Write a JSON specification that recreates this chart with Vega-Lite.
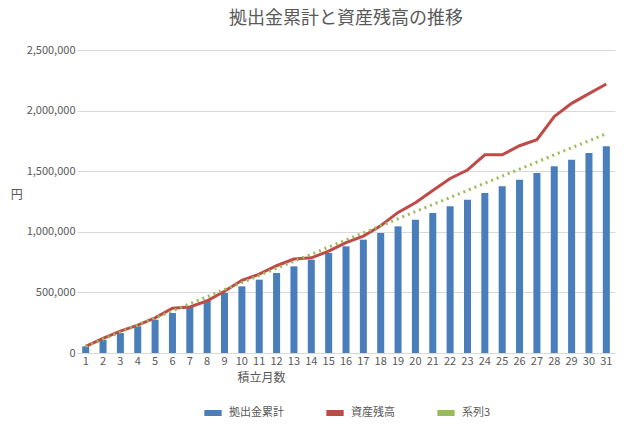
{"$schema": "https://vega.github.io/schema/vega-lite/v6.json",
  "width": 635, "height": 435,
  "autosize": {"type": "fit", "contains": "padding"},
  "padding": {"left": 10, "right": 20, "top": 10, "bottom": 10},
  "title": {"text": "拠出金累計と資産残高の推移", "font": "Noto Sans CJK JP", "fontSize": 18, "fontWeight": "normal", "color": "#595959", "offset": 16},
  "config": {"view": {"stroke": null},
    "axis": {"labelFont": "Noto Sans CJK JP", "titleFont": "Noto Sans CJK JP", "labelColor": "#595959", "titleColor": "#595959", "labelFontSize": 11, "titleFontSize": 12, "titleFontWeight": "normal"},
    "legend": {"labelFont": "Noto Sans CJK JP", "labelFontSize": 11, "labelColor": "#595959", "layout": {"bottom": {"anchor": "middle"}}}},
  "data": {"values": [
    {"m":1,"s":"拠出金累計","v":55000},{"m":2,"s":"拠出金累計","v":110000},{"m":3,"s":"拠出金累計","v":165000},{"m":4,"s":"拠出金累計","v":220000},{"m":5,"s":"拠出金累計","v":275000},{"m":6,"s":"拠出金累計","v":330000},{"m":7,"s":"拠出金累計","v":385000},{"m":8,"s":"拠出金累計","v":440000},{"m":9,"s":"拠出金累計","v":495000},{"m":10,"s":"拠出金累計","v":550000},{"m":11,"s":"拠出金累計","v":605000},{"m":12,"s":"拠出金累計","v":660000},{"m":13,"s":"拠出金累計","v":715000},{"m":14,"s":"拠出金累計","v":770000},{"m":15,"s":"拠出金累計","v":825000},{"m":16,"s":"拠出金累計","v":880000},{"m":17,"s":"拠出金累計","v":935000},{"m":18,"s":"拠出金累計","v":990000},{"m":19,"s":"拠出金累計","v":1045000},{"m":20,"s":"拠出金累計","v":1100000},{"m":21,"s":"拠出金累計","v":1155000},{"m":22,"s":"拠出金累計","v":1210000},{"m":23,"s":"拠出金累計","v":1265000},{"m":24,"s":"拠出金累計","v":1320000},{"m":25,"s":"拠出金累計","v":1375000},{"m":26,"s":"拠出金累計","v":1430000},{"m":27,"s":"拠出金累計","v":1485000},{"m":28,"s":"拠出金累計","v":1540000},{"m":29,"s":"拠出金累計","v":1595000},{"m":30,"s":"拠出金累計","v":1650000},{"m":31,"s":"拠出金累計","v":1705000},
    {"m":1,"s":"資産残高","v":55000},{"m":2,"s":"資産残高","v":120000},{"m":3,"s":"資産残高","v":180000},{"m":4,"s":"資産残高","v":230000},{"m":5,"s":"資産残高","v":290000},{"m":6,"s":"資産残高","v":370000},{"m":7,"s":"資産残高","v":380000},{"m":8,"s":"資産残高","v":430000},{"m":9,"s":"資産残高","v":510000},{"m":10,"s":"資産残高","v":600000},{"m":11,"s":"資産残高","v":650000},{"m":12,"s":"資産残高","v":720000},{"m":13,"s":"資産残高","v":775000},{"m":14,"s":"資産残高","v":785000},{"m":15,"s":"資産残高","v":840000},{"m":16,"s":"資産残高","v":910000},{"m":17,"s":"資産残高","v":965000},{"m":18,"s":"資産残高","v":1050000},{"m":19,"s":"資産残高","v":1160000},{"m":20,"s":"資産残高","v":1240000},{"m":21,"s":"資産残高","v":1340000},{"m":22,"s":"資産残高","v":1440000},{"m":23,"s":"資産残高","v":1510000},{"m":24,"s":"資産残高","v":1635000},{"m":25,"s":"資産残高","v":1635000},{"m":26,"s":"資産残高","v":1710000},{"m":27,"s":"資産残高","v":1760000},{"m":28,"s":"資産残高","v":1950000},{"m":29,"s":"資産残高","v":2060000},{"m":30,"s":"資産残高","v":2140000},{"m":31,"s":"資産残高","v":2220000},
    {"m":1,"s":"系列3","v":55000},{"m":2,"s":"系列3","v":113500},{"m":3,"s":"系列3","v":172000},{"m":4,"s":"系列3","v":230500},{"m":5,"s":"系列3","v":289000},{"m":6,"s":"系列3","v":347500},{"m":7,"s":"系列3","v":406000},{"m":8,"s":"系列3","v":464500},{"m":9,"s":"系列3","v":523000},{"m":10,"s":"系列3","v":581500},{"m":11,"s":"系列3","v":640000},{"m":12,"s":"系列3","v":698500},{"m":13,"s":"系列3","v":757000},{"m":14,"s":"系列3","v":815500},{"m":15,"s":"系列3","v":874000},{"m":16,"s":"系列3","v":932500},{"m":17,"s":"系列3","v":991000},{"m":18,"s":"系列3","v":1049500},{"m":19,"s":"系列3","v":1108000},{"m":20,"s":"系列3","v":1166500},{"m":21,"s":"系列3","v":1225000},{"m":22,"s":"系列3","v":1283500},{"m":23,"s":"系列3","v":1342000},{"m":24,"s":"系列3","v":1400500},{"m":25,"s":"系列3","v":1459000},{"m":26,"s":"系列3","v":1517500},{"m":27,"s":"系列3","v":1576000},{"m":28,"s":"系列3","v":1634500},{"m":29,"s":"系列3","v":1693000},{"m":30,"s":"系列3","v":1751500},{"m":31,"s":"系列3","v":1810000}
  ]},
  "encoding": {
    "x": {"field": "m", "type": "ordinal", "title": "積立月数", "axis": {"labelAngle": 0, "ticks": false, "domainColor": "#d9d9d9", "titleAlign": "left", "titleAnchor": "start", "titleX": 160, "titlePadding": 6}},
    "y": {"field": "v", "type": "quantitative", "title": "円", "scale": {"domain": [0, 2500000]}, "axis": {"values": [0, 500000, 1000000, 1500000, 2000000, 2500000], "labelExpr": "format(datum.value, ',')", "domain": false, "ticks": false, "gridColor": "#d9d9d9", "titleAngle": 0, "titlePadding": 10}},
    "color": {"field": "s", "type": "nominal", "title": null,
      "scale": {"domain": ["拠出金累計", "資産残高", "系列3"], "range": ["#4a7ebb", "#be4b48", "#9bbb59"]},
      "legend": {"orient": "bottom", "direction": "horizontal", "symbolType": "stroke", "symbolStrokeWidth": 6, "symbolSize": 300, "columnPadding": 30}}
  },
  "layer": [
    {"transform": [{"filter": "datum.s == '拠出金累計'"}], "mark": {"type": "bar", "width": {"band": 0.45}}},
    {"transform": [{"filter": "datum.s == '資産残高'"}], "mark": {"type": "line", "strokeWidth": 3}},
    {"transform": [{"filter": "datum.s == '系列3'"}], "mark": {"type": "line", "strokeWidth": 3, "strokeDash": [2, 4]}}
  ]
}
